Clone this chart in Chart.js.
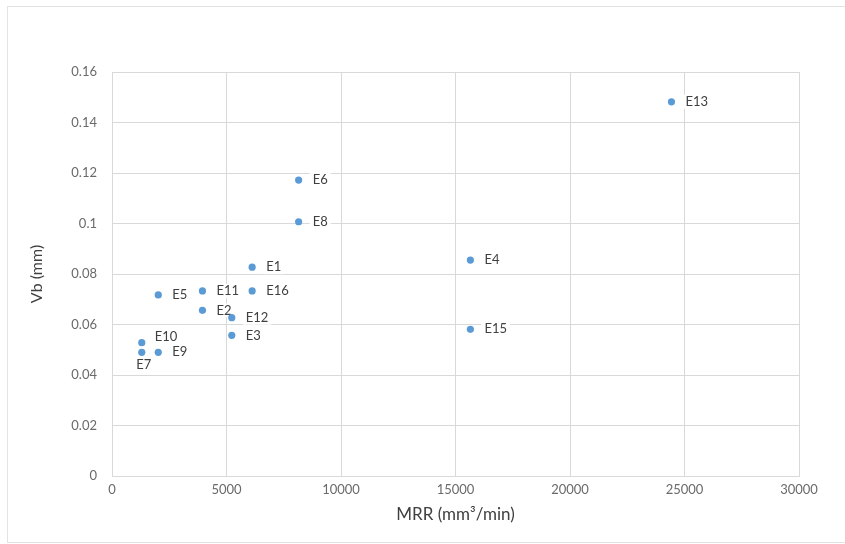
<!DOCTYPE html>
<html><head><meta charset="utf-8">
<script src="https://cdn.jsdelivr.net/npm/chart.js@4"></script>
<style>
html,body{margin:0;padding:0;background:#fff;}
#wrap{position:relative;width:845px;height:544px;overflow:hidden;background:#fff;}
#frame{position:absolute;left:7px;top:6px;width:850px;height:537px;border:1px solid #e3e3e3;box-sizing:border-box;pointer-events:none;}
canvas{position:absolute;left:0;top:0;}
</style></head><body>
<div id="wrap"><canvas id="c" width="845" height="544"></canvas><div id="frame"></div></div>
<script>
const pointNames = ['E1','E2','E3','E4','E5','E6','E7','E8','E9','E10','E11','E12','E13','E15','E16'];
const mrrValues  = [6120, 3950, 5230, 15650, 2020, 8150, 1300, 8150, 2020, 1300, 3950, 5230, 24430, 15650, 6120];
const vbValues   = [0.0827, 0.0656, 0.0557, 0.0855, 0.0717, 0.1172, 0.0490, 0.1007, 0.0490, 0.0528, 0.0733, 0.0627, 0.1482, 0.0581, 0.0733];
const labelPlacement = ['right','right','right','right','right','right','below','right','right','aboveRight','right','right','right','right','right'];
const xTickValues = [0, 5000, 10000, 15000, 20000, 25000, 30000];
const xTickLabels = ['0','5000','10000','15000','20000','25000','30000'];
const yTickValues = [0, 0.02, 0.04, 0.06, 0.08, 0.1, 0.12, 0.14, 0.16];
const yTickLabels = ['0','0.02','0.04','0.06','0.08','0.1','0.12','0.14','0.16'];
const xTitle = 'MRR (mm³/min)';
const yTitle = 'Vb (mm)';

const FONT = 'Lato, "Open Sans", sans-serif';
const gridColor = '#d9d9d9';
const tickColor = '#6a6a6a';
const titleColor = '#404040';

const pointLabelPlugin = {
  id: 'pointLabels',
  beforeDatasetsDraw(chart) {
    const meta = chart.getDatasetMeta(0);
    const ctx = chart.ctx;
    ctx.save();
    ctx.font = '13px ' + FONT;
    ctx.textBaseline = 'middle';
    meta.data.forEach((el, i) => {
      const txt = pointNames[i];
      const w = ctx.measureText(txt).width;
      let x, y;
      const p = labelPlacement[i];
      if (p === 'below') { x = el.x - w / 2 + 2; y = el.y + 13; }
      else if (p === 'aboveRight') { x = el.x + 13; y = el.y - 6; }
      else { x = el.x + 14; y = el.y; }
      ctx.fillStyle = '#ffffff';
      ctx.fillRect(x - 3, y - 7, w + 6, 14);
      ctx.fillStyle = '#404040';
      ctx.textAlign = 'left';
      ctx.fillText(txt, x, y);
    });
    ctx.restore();
  }
};

new Chart(document.getElementById('c'), {
  type: 'scatter',
  data: {
    datasets: [{
      data: mrrValues.map((v, i) => ({x: v, y: vbValues[i]})),
      backgroundColor: '#5b9bd5',
      borderColor: '#5b9bd5',
      borderWidth: 0,
      pointRadius: 3.6,
      pointHoverRadius: 3.6
    }]
  },
  options: {
    responsive: false,
    animation: false,
    events: [],
    layout: { padding: { left: 0, top: 72, right: 46, bottom: 0 } },
    plugins: { legend: { display: false }, tooltip: { enabled: false } },
    scales: {
      x: {
        type: 'linear',
        min: 0, max: 30000,
        afterBuildTicks: s => { s.ticks = xTickValues.map(v => ({value: v})); },
        afterFit: s => { s.height = 68; },
        grid: { color: gridColor, lineWidth: 1, drawTicks: false },
        border: { color: gridColor, width: 1 },
        ticks: {
          color: tickColor, padding: 6, maxRotation: 0, autoSkip: false,
          font: { family: FONT, size: 13 },
          callback: v => xTickLabels[xTickValues.indexOf(v)]
        },
        title: {
          display: true, text: xTitle, color: titleColor,
          font: { family: FONT, size: 17 },
          padding: { top: 0, bottom: 19 }
        }
      },
      y: {
        type: 'linear',
        min: 0, max: 0.16,
        afterBuildTicks: s => { s.ticks = yTickValues.map(v => ({value: v})); },
        afterFit: s => { s.width = 112; },
        grid: { color: gridColor, lineWidth: 1, drawTicks: false },
        border: { color: gridColor, width: 1 },
        ticks: {
          color: tickColor, padding: 15, autoSkip: false,
          font: { family: FONT, size: 13 },
          callback: (v, i) => yTickLabels[i]
        },
        title: {
          display: true, text: yTitle, color: titleColor,
          font: { family: FONT, size: 16 },
          padding: { top: 27, bottom: 0 }
        }
      }
    }
  },
  plugins: [pointLabelPlugin]
});
</script>
</body></html>
